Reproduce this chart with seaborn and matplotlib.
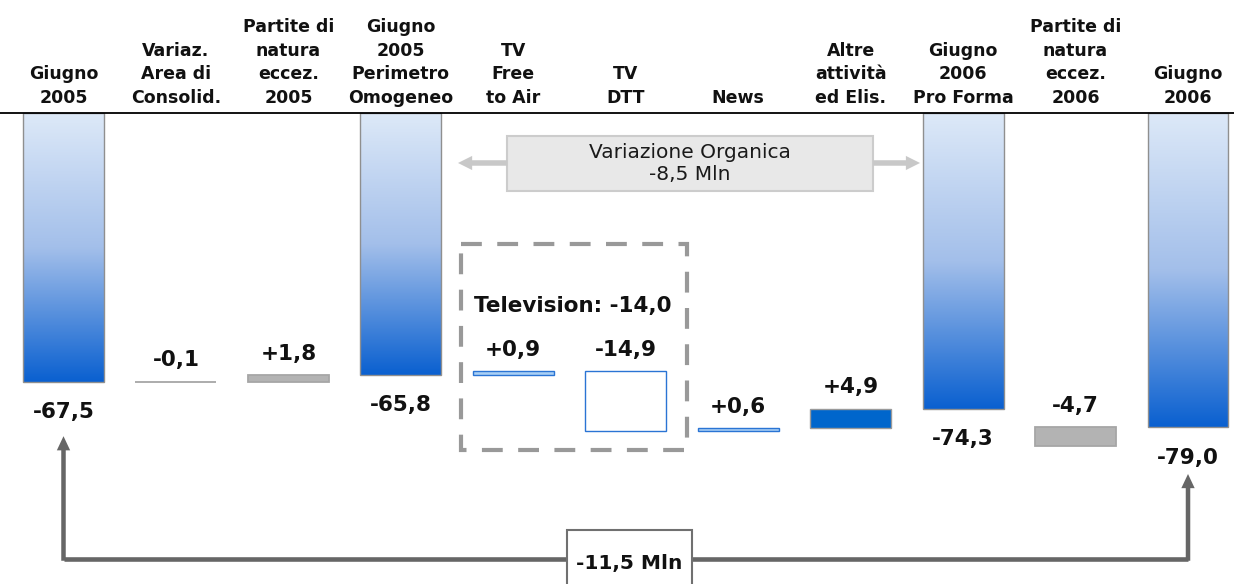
import matplotlib
matplotlib.use("Agg")
import matplotlib.pyplot as plt
import numpy as np
import pandas as pd
import seaborn as sns
from matplotlib.colors import LinearSegmentedColormap
from matplotlib.patches import Rectangle

# Data (Mln, costs shown downward from the top line)
labels = [
    "Giugno\n2005",
    "Variaz.\nArea di\nConsolid.",
    "Partite di\nnatura\neccez.\n2005",
    "Giugno\n2005\nPerimetro\nOmogeneo",
    "TV\nFree\nto Air",
    "TV\nDTT",
    "News",
    "Altre\nattività\ned Elis.",
    "Giugno\n2006\nPro Forma",
    "Partite di\nnatura\neccez.\n2006",
    "Giugno\n2006",
]
values = [-67.5, -0.1, 1.8, -65.8, 0.9, -14.9, 0.6, 4.9, -74.3, -4.7, -79.0]
kinds = ["total", "grey", "grey", "total", "thin", "open", "thin", "solid", "total", "grey", "total"]
# level each bar starts from, as placed on the slide
bar_start = [0, 67.5, 67.6, 0, 65.8, 64.9, 79.8, 79.2, 0, 79.0, 0]

organic_text = "Variazione Organica\n-8,5 Mln"
tv_text = "Television: -14,0"
total_text = "-11,5 Mln"

df = pd.DataFrame({"label": labels, "value": values, "kind": kinds, "start": bar_start})
df["end"] = df["start"] - df["value"]
df["low"] = df[["start", "end"]].min(axis=1)
df["high"] = df[["start", "end"]].max(axis=1)
df["size"] = df["high"] - df["low"]
df["text"] = [f"{v:+.1f}".replace(".", ",") for v in df["value"]]

sns.set_theme(style="white")
plt.rcParams["font.family"] = ["DejaVu Sans"]

fig = plt.figure(figsize=(12.34, 5.84), dpi=100)
ax = fig.add_axes([0, 0, 1, 1])

sns.barplot(data=df, x="label", y="size", order=labels, bottom=df["low"].to_numpy(),
            width=0.72, color="white", errorbar=None, ax=ax)

blue_grad = LinearSegmentedColormap.from_list("blu", ["#dde9f8", "#a3bfea", "#0a60d0"])
grad = np.linspace(0, 1, 256).reshape(-1, 1)

for patch, (_, row) in zip(ax.patches, df.iterrows()):
    patch.set_zorder(3)
    if row["kind"] == "total":
        x0 = patch.get_x()
        x1 = x0 + patch.get_width()
        im = ax.imshow(grad, cmap=blue_grad, aspect="auto", origin="upper",
                       extent=(x0, x1, row["high"], row["low"]), zorder=2, interpolation="bilinear")
        im.set_clip_path(patch)
        patch.set_facecolor("none")
        patch.set_edgecolor("#8f8f8f")
        patch.set_linewidth(1.0)
    elif row["kind"] == "grey":
        patch.set_facecolor("#b3b3b3")
        patch.set_edgecolor("#a6a6a6")
        patch.set_linewidth(1.3)
    elif row["kind"] == "thin":
        patch.set_facecolor("#a9d0f5")
        patch.set_edgecolor("#2a74d4")
        patch.set_linewidth(1.0)
    elif row["kind"] == "open":
        patch.set_facecolor("white")
        patch.set_edgecolor("#2a74d4")
        patch.set_linewidth(1.0)
    else:
        patch.set_facecolor("#0066cc")
        patch.set_edgecolor("#9a9a9a")
        patch.set_linewidth(1.0)

# top base line
ax.axhline(0, color="black", lw=1.3, zorder=4)

# headers and value labels
for i, row in df.iterrows():
    ax.text(i, -1.5, row["label"], ha="center", va="bottom", fontsize=12.5,
            fontweight="bold", linespacing=1.41, color="#111111")
    if row["kind"] == "total":
        ax.annotate(row["text"], (i, row["high"]), xytext=(0, -22), textcoords="offset points",
                    ha="center", va="center", fontsize=15.5, fontweight="bold", color="#111111")
    else:
        ax.annotate(row["text"], (i, row["low"]), xytext=(0, 15.3), textcoords="offset points",
                    ha="center", va="center", fontsize=15.5, fontweight="bold", color="#111111")

# organic change box with side arrows
ax.add_patch(Rectangle((3.944, 5.78), 3.255, 13.82, facecolor="#e8e8e8",
                       edgecolor="#cccccc", lw=1.5, zorder=3))
ax.text(5.571, 12.7, organic_text, ha="center", va="center", fontsize=14.5,
        linespacing=1.2, color="#1a1a1a", zorder=4)
arrow_light = dict(arrowstyle="simple,tail_width=0.33,head_width=0.85,head_length=0.85",
                   fc="#c8c8c8", ec="none", mutation_scale=12, shrinkA=0, shrinkB=0)
ax.annotate("", xy=(3.508, 12.56), xytext=(3.944, 12.56), arrowprops=arrow_light)
ax.annotate("", xy=(7.617, 12.56), xytext=(7.199, 12.56), arrowprops=arrow_light)

# television dashed group
ax.add_patch(Rectangle((3.535, 32.9), 2.01, 51.8, fill=False, edgecolor="#999999",
                       lw=3, linestyle=(0, (5, 3.7)), zorder=3))
ax.text(4.53, 48.5, tv_text, ha="center", va="center", fontsize=15.5,
        fontweight="bold", color="#111111", zorder=4)

# overall change connector
ax.plot([0, 10], [112.06, 112.06], color="#666666", lw=3.3, solid_capstyle="butt", zorder=3)
arrow_dark = dict(arrowstyle="simple,tail_width=0.27,head_width=0.8,head_length=0.85",
                  fc="#666666", ec="none", mutation_scale=12, shrinkA=0, shrinkB=0)
ax.annotate("", xy=(0, 81.2), xytext=(0, 112.5), arrowprops=arrow_dark)
ax.annotate("", xy=(10, 90.7), xytext=(10, 112.5), arrowprops=arrow_dark)
ax.add_patch(Rectangle((4.478, 104.8), 1.112, 20, facecolor="white",
                       edgecolor="#707070", lw=1.5, zorder=5))
ax.text(5.033, 113.1, total_text, ha="center", va="center", fontsize=14.5,
        fontweight="bold", color="#111111", zorder=6)

ax.set_xlim(-0.5647, 10.409)
ax.set_ylim(118.34, -28.39)
ax.axis("off")

fig.savefig("out.png", dpi=100)
